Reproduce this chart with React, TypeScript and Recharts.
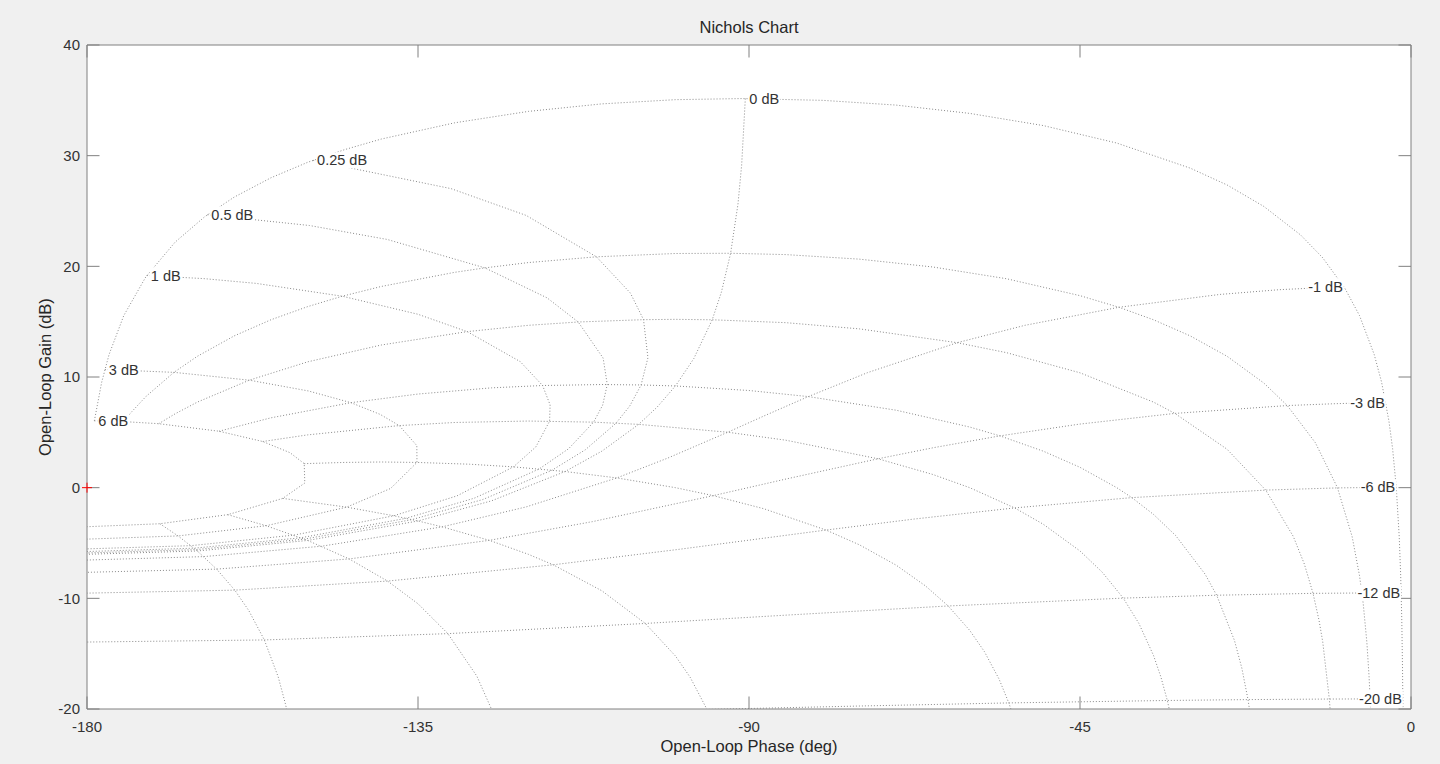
import React from "react";
import {
  LineChart,
  Line,
  XAxis,
  YAxis,
  ReferenceArea,
  ReferenceLine,
  ReferenceDot,
} from "recharts";

type Pt = [number, number]; // [open-loop phase (deg), open-loop gain (dB)]

const X_TICKS = [-180, -135, -90, -45, 0];
const Y_TICKS = [-20, -10, 0, 10, 20, 30, 40];

// closed-loop magnitude contours
const M_6DB: Pt[] = [
  [-179.0, 6.04], [-175.0, 5.97], [-170.25, 5.78], [-162.05, 5.1], [-156.11, 4.17],
  [-152.4, 3.16], [-150.47, 2.17], [-150.39, 0.42], [-153.39, -0.97], [-160.86, -2.44],
  [-170.09, -3.26], [-180, -3.53],
];
const M_3DB: Pt[] = [
  [-177.58, 10.68], [-168.18, 10.42], [-157.9, 9.71], [-149.91, 8.74], [-144.12, 7.68],
  [-140.14, 6.62], [-137.55, 5.61], [-135.16, 3.8], [-135.14, 2.28], [-138.72, -0.07],
  [-144.7, -1.76], [-155.64, -3.44], [-167.62, -4.36], [-180, -4.65],
];
const M_1DB: Pt[] = [
  [-171.87, 19.17], [-164.11, 18.89], [-157.01, 18.46], [-145.29, 17.3], [-135.01, 15.67],
  [-128.31, 14.1], [-121.1, 11.39], [-118.06, 9.23], [-117.04, 7.48], [-117.11, 6.01],
  [-118.98, 3.68], [-122.03, 1.88], [-129.7, -0.74], [-138.29, -2.54], [-151.9, -4.29],
  [-165.88, -5.24], [-180, -5.53],
];
const M_05DB: Pt[] = [
  [-163.64, 24.66], [-149.76, 23.69], [-139.19, 22.43], [-125.9, 19.86], [-117.45, 17.15],
  [-113.22, 14.97], [-109.83, 11.71], [-109.27, 9.32], [-109.9, 7.45], [-111.13, 5.92],
  [-114.52, 3.52], [-118.53, 1.69], [-127.35, -0.95], [-136.64, -2.77], [-150.95, -4.53],
  [-165.44, -5.47], [-180, -5.77],
];
const M_025DB: Pt[] = [
  [-149.26, 29.58], [-130.5, 27.02], [-120.29, 24.6], [-110.74, 20.86], [-106.13, 17.59],
  [-104.34, 15.18], [-103.74, 11.74], [-104.67, 9.28], [-106.21, 7.38], [-108.07, 5.83],
  [-112.26, 3.42], [-116.77, 1.58], [-126.18, -1.07], [-135.83, -2.89], [-150.47, -4.65],
  [-165.22, -5.6], [-180, -5.9],
];
const M_0DB: Pt[] = [
  [-90.5, 35.16], [-91, 29.14], [-91.5, 25.62], [-92.5, 21.18], [-93.75, 17.67],
  [-95, 15.17], [-97.5, 11.67], [-100, 9.19], [-102.5, 7.27], [-105, 5.72],
  [-110, 3.3], [-115, 1.46], [-125, -1.19], [-135, -3.01], [-150, -4.77],
  [-165, -5.72], [-180, -6.02],
];
const M_N1DB: Pt[] = [
  [-9.13, 18.17], [-17.89, 17.89], [-25.99, 17.46], [-39.71, 16.3], [-52.49, 14.67],
  [-61.69, 13.1], [-73.9, 10.39], [-81.94, 8.23], [-87.96, 6.48], [-92.89, 5.01],
  [-101.02, 2.68], [-107.97, 0.88], [-120.3, -1.74], [-131.71, -3.54], [-148.1, -5.29],
  [-164.12, -6.23], [-180, -6.54],
];
const M_N3DB: Pt[] = [
  [-3.42, 7.68], [-6.83, 7.65], [-10.21, 7.59], [-16.82, 7.42], [-32.1, 6.71],
  [-45.09, 5.74], [-55.88, 4.68], [-64.86, 3.62], [-72.46, 2.61], [-84.84, 0.8],
  [-94.86, -0.72], [-111.28, -3.07], [-125.3, -4.76], [-144.36, -6.44], [-162.38, -7.36],
  [-180, -7.65],
];
const M_N6DB: Pt[] = [
  [-2.0, 0.04], [-9.99, -0.02], [-19.75, -0.22], [-37.95, -0.9], [-53.89, -1.83],
  [-67.61, -2.84], [-79.53, -3.83], [-99.61, -5.58], [-116.62, -6.97], [-139.14, -8.44],
  [-159.91, -9.26], [-180, -9.53],
];
const M_N12DB: Pt[] = [
  [-1.34, -9.49], [-13.32, -9.55], [-26.42, -9.72], [-39.12, -9.98], [-62.92, -10.69],
  [-84.48, -11.5], [-104.1, -12.27], [-130.94, -13.19], [-155.89, -13.76], [-180, -13.95],
];
const M_N20DB: Pt[] = [
  [-1.11, -19.08], [-11.1, -19.1], [-22.16, -19.15], [-33.13, -19.23], [-54.68, -19.45],
  [-75.56, -19.74], [-95.71, -20.04], [-124.72, -20.45],
];

// closed-loop phase contours
const P_1: Pt[] = [
  [-179.0, 6.04], [-178, 9.54], [-177, 12.03], [-175, 15.55], [-172, 19.05], [-168, 22.2],
  [-164, 24.48], [-160, 26.25], [-155, 28.0], [-150, 29.4], [-145, 30.54], [-140, 31.5],
  [-130, 32.97], [-120, 34.0], [-110, 34.68], [-100, 35.06], [-91, 35.16], [-80, 35.0],
  [-70, 34.57], [-60, 33.82], [-50, 32.72], [-40, 31.14], [-30, 28.87], [-25, 27.35],
  [-20, 25.41], [-15, 22.83], [-12, 20.77], [-9, 18.03], [-7, 15.55], [-5, 12.03],
  [-4, 9.54], [-3, 6.02], [-2.5, 3.52], [-2, 0.0], [-1.6, -4.44], [-1.4, -7.96],
  [-1.25, -12.04], [-1.15, -16.48], [-1.1, -20.0], [-1.08, -21.9],
];
const P_5: Pt[] = [
  [-175.0, 5.98], [-174, 6.8], [-172, 8.23], [-168.18, 10.42], [-165, 11.87], [-160, 13.71],
  [-155, 15.17], [-150, 16.36], [-145.29, 17.3], [-140, 18.18], [-130, 19.46], [-125.9, 19.86],
  [-120, 20.34], [-110.74, 20.86], [-100, 21.16], [-92.5, 21.18], [-85, 21.06], [-75, 20.65],
  [-65, 19.94], [-55, 18.88], [-45, 17.35], [-39.71, 16.3], [-35, 15.17], [-30, 13.71],
  [-25, 11.87], [-20, 9.45], [-16.82, 7.42], [-13, 4.06], [-10, 0.0], [-8, -4.43],
  [-7, -7.95], [-6.5, -10.45], [-6, -13.97], [-5.7, -17.07], [-5.5, -19.99], [-5.4, -21.93],
];
const P_10: Pt[] = [
  [-170.25, 5.78], [-168, 6.68], [-165, 7.73], [-157.9, 9.72], [-150, 11.37], [-140, 12.89],
  [-128.31, 14.1], [-120, 14.67], [-113.22, 14.97], [-104.34, 15.18], [-100, 15.21], [-95, 15.17],
  [-85, 14.91], [-75, 14.35], [-61.7, 13.1], [-55, 12.2], [-45, 10.38], [-35, 7.73],
  [-32.1, 6.71], [-25, 3.47], [-19.75, -0.22], [-16, -4.41], [-14.5, -6.9], [-13.32, -9.55],
  [-12.5, -12.0], [-12, -13.93], [-11.1, -19.13], [-10.9, -20.87],
];
const P_20: Pt[] = [
  [-162.05, 5.1], [-155, 6.31], [-144.12, 7.68], [-135, 8.46], [-125, 9.02], [-118.06, 9.23],
  [-110, 9.32], [-104.67, 9.28], [-100, 9.19], [-90, 8.78], [-81.94, 8.23], [-70, 7.0],
  [-60, 5.48], [-55.88, 4.68], [-50, 3.3], [-45, 1.84], [-40, 0.0], [-37.95, -0.9],
  [-35, -2.42], [-32, -4.32], [-28, -7.81], [-26.42, -9.72], [-24, -13.81], [-23, -16.3],
  [-22.16, -19.15], [-21.8, -20.74],
];
const P_30: Pt[] = [
  [-156.11, 4.17], [-150, 4.77], [-137.55, 5.61], [-130, 5.89], [-120, 6.02], [-111.13, 5.92],
  [-105, 5.72], [-92.89, 5.01], [-85, 4.29], [-72.46, 2.61], [-65, 1.19], [-60, 0.0],
  [-53.89, -1.83], [-50, -3.3], [-45, -5.72], [-42, -7.62], [-39.12, -9.98], [-37, -12.26],
  [-35, -15.17], [-34, -17.11], [-33.13, -19.23], [-32.8, -20.2],
];
const P_50: Pt[] = [
  [-150.47, 2.17], [-145, 2.28], [-140, 2.32], [-135.14, 2.28], [-128, 2.12], [-122.03, 1.88],
  [-115, 1.46], [-107.97, 0.88], [-100, 0.0], [-94.86, -0.72], [-88, -1.9], [-79.53, -3.83],
  [-75, -5.16], [-70, -7.0], [-66, -8.88], [-62.92, -10.69], [-60, -12.89], [-58, -14.81],
  [-56, -17.3], [-54.68, -19.45], [-54.3, -20.19],
];
const P_90: Pt[] = [
  [-153.39, -0.97], [-144.7, -1.76], [-138.29, -2.54], [-135, -3.01], [-131.71, -3.54],
  [-125.3, -4.76], [-120, -6.02], [-116.62, -6.97], [-110, -9.32], [-104.1, -12.27],
  [-100, -15.21], [-98, -17.13], [-95.71, -20.04], [-95.5, -20.37],
];
const P_120: Pt[] = [
  [-160.86, -2.44], [-155.64, -3.44], [-150, -4.77], [-144.36, -6.44], [-139.14, -8.44],
  [-135, -10.49], [-130.94, -13.19], [-127, -17.03], [-124.72, -20.45],
];
const P_150: Pt[] = [
  [-170.09, -3.26], [-167.62, -4.36], [-165, -5.72], [-162.38, -7.36], [-159.91, -9.26],
  [-158, -11.11], [-155.89, -13.76], [-154, -17.11], [-153, -19.6], [-152.63, -20.73],
];

const MAG_CONTOURS = [M_6DB, M_3DB, M_1DB, M_05DB, M_025DB, M_0DB, M_N1DB, M_N3DB, M_N6DB, M_N12DB, M_N20DB];
const PHASE_CONTOURS = [P_1, P_5, P_10, P_20, P_30, P_50, P_90, P_120, P_150];

const MAG_LABELS = ["6 dB", "3 dB", "1 dB", "0.5 dB", "0.25 dB", "0 dB", "-1 dB", "-3 dB", "-6 dB", "-12 dB", "-20 dB"];

const CRITICAL: Pt = [-180, 0];

const FONT = "'Liberation Sans', Arial, Helvetica, sans-serif";
const GRID_COLOR = "#8a8a8a";
const BOX_COLOR = "#808080";
const TEXT_COLOR = "#333333";
const TICK_X = 1.7; // inward tick length in degrees (~12.5px)
const TICK_Y = 1.13; // inward tick length in dB

const CHAR_W: Record<string, number> = { ".": 0.278, " ": 0.278, "-": 0.333, d: 0.556, B: 0.667 };
const textWidth = (s: string, size: number) =>
  s.split("").reduce((w, c) => w + (CHAR_W[c] ?? 0.556) * size, 0);

const LABEL_SIZE = 14.5;

const labelShape = (text: string, anchor: "start" | "end") => (props: any) => {
  const { cx, cy } = props;
  const w = textWidth(text, LABEL_SIZE);
  const left = anchor === "start" ? cx + 4 : cx - 1 - w;
  return (
    <g>
      <rect x={left - 1} y={cy - 8} width={w + 2} height={16} fill="#ffffff" />
      <text
        x={left}
        y={cy}
        dy="0.35em"
        textAnchor="start"
        fontSize={LABEL_SIZE}
        fontFamily={FONT}
        fill={TEXT_COLOR}
      >
        {text}
      </text>
    </g>
  );
};

const crossShape = (props: any) => {
  const { cx, cy } = props;
  return (
    <g stroke="#ff0000" strokeWidth={1}>
      <line x1={cx - 5} y1={cy} x2={cx + 5} y2={cy} />
      <line x1={cx} y1={cy - 5} x2={cx} y2={cy + 5} />
    </g>
  );
};

const toRows = (pts: Pt[]) => pts.map(([x, y]) => ({ x, y }));

export default function App() {
  const contours = [...MAG_CONTOURS, ...PHASE_CONTOURS];
  return (
    <div
      style={{
        position: "absolute",
        left: 0,
        top: 0,
        width: 1440,
        height: 764,
        background: "#f0f0f0",
        fontFamily: FONT,
        overflow: "hidden",
      }}
    >
      <div style={{ position: "absolute", left: 87, top: 45, width: 1324, height: 664, background: "#ffffff" }} />
      <div
        style={{
          position: "absolute",
          left: 87,
          top: 17,
          width: 1324,
          textAlign: "center",
          fontSize: 16.5,
          lineHeight: "20px",
          color: "#262626",
        }}
      >
        Nichols Chart
      </div>
      <div
        style={{
          position: "absolute",
          left: 87,
          top: 736,
          width: 1324,
          textAlign: "center",
          fontSize: 16.5,
          lineHeight: "20px",
          color: "#262626",
        }}
      >
        Open-Loop Phase (deg)
      </div>
      <div
        style={{
          position: "absolute",
          left: 45 - 150,
          top: 377 - 10,
          width: 300,
          height: 20,
          textAlign: "center",
          fontSize: 16.5,
          lineHeight: "20px",
          color: "#262626",
          transform: "rotate(-90deg)",
          transformOrigin: "50% 50%",
        }}
      >
        Open-Loop Gain (dB)
      </div>
      <div style={{ position: "absolute", left: 0, top: 0 }}>
        <LineChart width={1440} height={764} margin={{ top: 45, right: 29, left: 47, bottom: 15 }}>
          <XAxis
            dataKey="x"
            type="number"
            domain={[-180, 0]}
            ticks={X_TICKS}
            interval={0}
            allowDataOverflow
            height={40}
            axisLine={false}
            tickLine={false}
            tickSize={0}
            tickMargin={12}
            tick={{ fontSize: 15, fill: TEXT_COLOR, fontFamily: FONT }}
          />
          <YAxis
            type="number"
            domain={[-20, 40]}
            ticks={Y_TICKS}
            interval={0}
            allowDataOverflow
            width={40}
            axisLine={false}
            tickLine={false}
            tickSize={0}
            tickMargin={7}
            tick={{ fontSize: 15, fill: TEXT_COLOR, fontFamily: FONT }}
          />
          {contours.map((c, i) => (
            <Line
              key={i}
              data={toRows(c)}
              dataKey="y"
              type="linear"
              stroke={GRID_COLOR}
              strokeWidth={1}
              strokeDasharray="1 2"
              dot={false}
              activeDot={false}
              isAnimationActive={false}
            />
          ))}
          <ReferenceArea x1={-180} x2={0} y1={-20} y2={40} fill="none" fillOpacity={0} stroke={BOX_COLOR} strokeWidth={1} />
          {X_TICKS.map((t) => (
            <ReferenceLine key={"xb" + t} segment={[{ x: t, y: -20 }, { x: t, y: -20 + TICK_Y }]} stroke={BOX_COLOR} />
          ))}
          {X_TICKS.map((t) => (
            <ReferenceLine key={"xt" + t} segment={[{ x: t, y: 40 }, { x: t, y: 40 - TICK_Y }]} stroke={BOX_COLOR} />
          ))}
          {Y_TICKS.map((t) => (
            <ReferenceLine key={"yl" + t} segment={[{ x: -180, y: t }, { x: -180 + TICK_X, y: t }]} stroke={BOX_COLOR} />
          ))}
          {Y_TICKS.map((t) => (
            <ReferenceLine key={"yr" + t} segment={[{ x: 0, y: t }, { x: -TICK_X, y: t }]} stroke={BOX_COLOR} />
          ))}
          {MAG_CONTOURS.map((c, i) => (
            <ReferenceDot
              key={"lbl" + i}
              x={c[0][0]}
              y={c[0][1]}
              r={0}
              ifOverflow="visible"
              shape={labelShape(MAG_LABELS[i], i < 6 ? "start" : "end")}
            />
          ))}
          <ReferenceDot x={CRITICAL[0]} y={CRITICAL[1]} r={0} ifOverflow="visible" shape={crossShape} />
        </LineChart>
      </div>
    </div>
  );
}
